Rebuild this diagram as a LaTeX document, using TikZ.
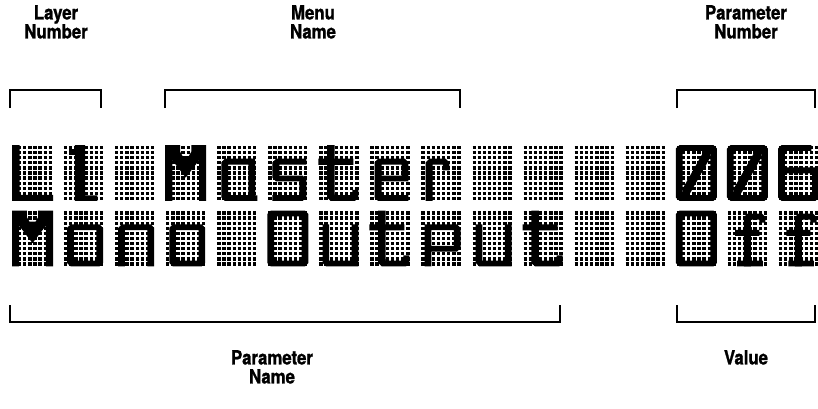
\documentclass[tikz,border=0pt]{standalone}
\usepackage{fontspec}
\setmainfont{TeX Gyre Heros}
\newfontfamily\lblfont[FakeStretch=0.86, FakeBold=1.2]{TeX Gyre Heros}
\tikzset{
  dotrow/.style={line width=3.35pt, dash pattern=on 3.35pt off 1.775pt},
  lbl/.style={font=\lblfont\bfseries\fontsize{19.5}{19}\selectfont, align=center, inner sep=0pt},
  brk/.style={line width=1.6pt, line join=miter}
}
% one LCD character cell: #1 column, #2 top y, #3 glyph
\newcommand\lcdcell[3]{%
  \begin{scope}[shift={({12+51.07*#1},#2)},x=5.125pt,y=-5.09pt]
    \foreach \j in {0,...,10}{\draw[dotrow] (0.17,\j+0.5) -- (8,\j+0.5);}
    #3
  \end{scope}}
\newcommand\lcdring[4]{\fill[even odd rule] ({#1+0.7},#2) -- ({#3-0.7},#2) -- (#3,{#2+0.7}) -- (#3,{#4-0.7}) -- ({#3-0.7},#4) -- ({#1+0.7},#4) -- (#1,{#4-0.7}) -- (#1,{#2+0.7}) -- cycle ({#1+1.3},{#2+1.15}) rectangle ({#3-1.3},{#4-1.15});}
\newcommand\GLL{\fill (0,0) rectangle (1.5,11) (0,9.8) rectangle (8,11);}
\newcommand\GLone{\fill (2.3,0) -- (4.3,0) -- (4.3,9.9) -- (6.7,9.9) -- (6.7,11) -- (2.3,11) -- cycle; \fill (1.2,0.8) rectangle (2.4,2);}
\newcommand\GLM{\fill (0,0) -- (2.9,0) -- (2.9,1.3) -- (3.4,2.2) -- (4.6,2.2) -- (5.1,1.3) -- (5.1,0) -- (8,0) -- (8,11) -- (6.6,11) -- (6.6,3) -- (4,6.4) -- (1.4,3) -- (1.4,11) -- (0,11) -- cycle;}
\newcommand\GLa{\lcdring{1}{2.7}{7.6}{11}\fill (6.3,2.7) rectangle (7.6,11) (7.6,9.9) rectangle (8,11);}
\newcommand\GLs{\fill (1.7,2.7) -- (7.6,2.7) -- (7.6,3.85) -- (2.35,3.85) -- (2.35,6.0) -- (6.9,6.0) -- (7.6,6.7) -- (7.6,10.3) -- (6.9,11) -- (1,11) -- (1,9.85) -- (6.25,9.85) -- (6.25,7.15) -- (1.7,7.15) -- (1,6.45) -- (1,3.4) -- cycle;}
\newcommand\GLt{\fill (1.7,0) rectangle (3.15,10) (0,2.7) rectangle (6.8,3.9); \fill (1.7,9.5) -- (1.7,10.3) -- (2.4,11) -- (7.1,11) -- (7.8,10.3) -- (7.8,8.8) -- (6.6,8.8) -- (6.6,9.85) -- (3.15,9.85) -- (3.15,9.5) -- cycle;}
\newcommand\GLe{\fill[even odd rule] (1.7,2.7) -- (6.9,2.7) -- (7.6,3.4) -- (7.6,7.15) -- (2.35,7.15) -- (2.35,9.85) -- (7.6,9.85) -- (7.6,11) -- (1.7,11) -- (1,10.3) -- (1,3.4) -- cycle (2.35,3.85) rectangle (6.25,6);}
\newcommand\GLr{\fill (1,11) -- (1,3.4) -- (1.7,2.7) -- (4.9,2.7) -- (5.6,3.4) -- (5.6,5) -- (4.35,5) -- (4.35,3.85) -- (2.35,3.85) -- (2.35,11) -- cycle;}
\newcommand\GLzero{\lcdring{0}{0}{8}{11}}
\newcommand\GLslash{\lcdring{0}{0}{8}{11}\fill (1.3,9.85) -- (2.55,9.85) -- (6.7,2.45) -- (6.7,1.15) -- (5.5,1.15) -- (1.3,8.6) -- cycle;}
\newcommand\GLsix{\fill[even odd rule] (0.7,0) -- (6.5,0) -- (6.5,1.15) -- (1.35,1.15) -- (1.35,4.4) -- (7.3,4.4) -- (8,5.1) -- (8,10.3) -- (7.3,11) -- (0.7,11) -- (0,10.3) -- (0,0.7) -- cycle (1.35,5.55) rectangle (6.65,9.85);}
\newcommand\GLn{\fill (0.8,11) -- (0.8,3.4) -- (1.5,2.7) -- (7.1,2.7) -- (7.8,3.4) -- (7.8,11) -- (6.5,11) -- (6.5,3.85) -- (2.1,3.85) -- (2.1,11) -- cycle;}
\newcommand\GLo{\lcdring{0.8}{2.7}{7.8}{11}}
\newcommand\GLu{\fill (0.8,2.7) -- (2.1,2.7) -- (2.1,9.85) -- (6.5,9.85) -- (6.5,2.7) -- (7.8,2.7) -- (7.8,11) -- (1.5,11) -- (0.8,10.3) -- cycle;}
\newcommand\GLp{\fill[even odd rule] (0.8,2.7) -- (7.1,2.7) -- (7.8,3.4) -- (7.8,7.4) -- (7.1,8.1) -- (2.1,8.1) -- (2.1,11) -- (0.8,11) -- cycle (2.1,3.85) rectangle (6.5,6.95);}
\newcommand\GLf{\fill (3.3,11) -- (3.3,1.3) -- (4,0.6) -- (6.8,0.6) -- (7.5,1.3) -- (7.5,2.4) -- (6.3,2.4) -- (6.3,1.8) -- (4.65,1.8) -- (4.65,11) -- cycle; \fill (1.6,3.8) rectangle (6.3,5) (2,9.85) rectangle (7,11);}
\begin{document}
\begin{tikzpicture}[x=1pt,y=-1pt]
\useasboundingbox (0,0) rectangle (818,408);
\fill[white] (0,0) rectangle (818,408);
% labels
\node[lbl, anchor=north] (layer) at (56,5) {Layer\\Number};
\node[lbl, anchor=north] (menu) at (313,5) {Menu\\Name};
\node[lbl, anchor=north] (pnum) at (746,5) {Parameter\\Number};
\node[lbl, anchor=north] (pname) at (272,350) {Parameter\\Name};
\node[lbl, anchor=north] (value) at (746,350) {Value};
% brackets
\draw[brk] (10,108) -- (10,90) -- (101,90) -- (101,108);
\draw[brk] (165,108) -- (165,90) -- (460,90) -- (460,108);
\draw[brk] (677,108) -- (677,90) -- (815,90) -- (815,108);
\draw[brk] (10,305) -- (10,322) -- (560,322) -- (560,305);
\draw[brk] (677,305) -- (677,322) -- (815,322) -- (815,305);
% row 1: L1 Master    006
\lcdcell{0}{145}{\GLL}
\lcdcell{1}{145}{\GLone}
\lcdcell{2}{145}{}
\lcdcell{3}{145}{\GLM}
\lcdcell{4}{145}{\GLa}
\lcdcell{5}{145}{\GLs}
\lcdcell{6}{145}{\GLt}
\lcdcell{7}{145}{\GLe}
\lcdcell{8}{145}{\GLr}
\lcdcell{9}{145}{}
\lcdcell{10}{145}{}
\lcdcell{11}{145}{}
\lcdcell{12}{145}{}
\lcdcell{13}{145}{\GLslash}
\lcdcell{14}{145}{\GLslash}
\lcdcell{15}{145}{\GLsix}
% row 2: Mono Output  Off
\lcdcell{0}{210.5}{\GLM}
\lcdcell{1}{210.5}{\GLo}
\lcdcell{2}{210.5}{\GLn}
\lcdcell{3}{210.5}{\GLo}
\lcdcell{4}{210.5}{}
\lcdcell{5}{210.5}{\GLzero}
\lcdcell{6}{210.5}{\GLu}
\lcdcell{7}{210.5}{\GLt}
\lcdcell{8}{210.5}{\GLp}
\lcdcell{9}{210.5}{\GLu}
\lcdcell{10}{210.5}{\GLt}
\lcdcell{11}{210.5}{}
\lcdcell{12}{210.5}{}
\lcdcell{13}{210.5}{\GLzero}
\lcdcell{14}{210.5}{\GLf}
\lcdcell{15}{210.5}{\GLf}
\end{tikzpicture}
\end{document}
